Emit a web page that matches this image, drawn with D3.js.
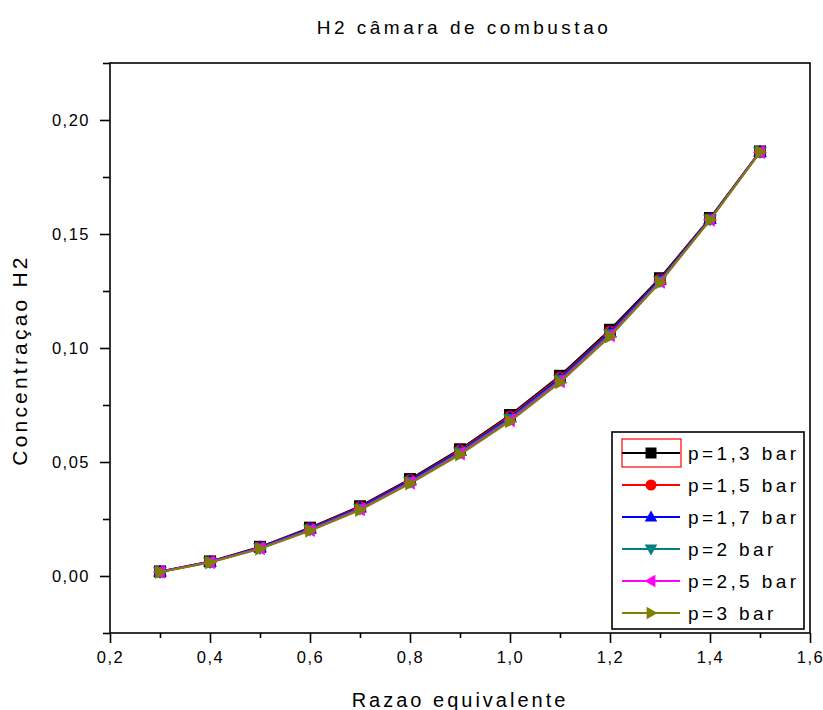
<!DOCTYPE html>
<html>
<head>
<meta charset="utf-8">
<script src="https://cdn.jsdelivr.net/npm/d3@7/dist/d3.min.js"></script>
<style>
  html, body { margin: 0; padding: 0; background: #fff; }
  svg text { font-family: "Liberation Sans", Arial, sans-serif; fill: #000; }
</style>
</head>
<body>
<div id="chart"></div>
<script>
// equivalence ratio values (x)
const phi = [0.3, 0.4, 0.5, 0.6, 0.7, 0.8, 0.9, 1.0, 1.1, 1.2, 1.3, 1.4, 1.5];

// H2 concentration per chamber pressure
const p13 = [0.0020, 0.0064, 0.0128, 0.0212, 0.0306, 0.0425, 0.0556, 0.0706, 0.0878, 0.1080, 0.1306, 0.1570, 0.1862];
const p15 = [0.0019, 0.0063, 0.0126, 0.0209, 0.0303, 0.0421, 0.0551, 0.0700, 0.0871, 0.1072, 0.1300, 0.1567, 0.1861];
const p17 = [0.0019, 0.0062, 0.0125, 0.0207, 0.0300, 0.0418, 0.0547, 0.0695, 0.0866, 0.1067, 0.1298, 0.1566, 0.1860];
const p2  = [0.0018, 0.0061, 0.0123, 0.0204, 0.0296, 0.0413, 0.0542, 0.0689, 0.0860, 0.1061, 0.1294, 0.1564, 0.1860];
const p25 = [0.0018, 0.0060, 0.0121, 0.0201, 0.0292, 0.0409, 0.0537, 0.0683, 0.0854, 0.1055, 0.1290, 0.1562, 0.1859];
const p3  = [0.0017, 0.0059, 0.0119, 0.0198, 0.0289, 0.0405, 0.0532, 0.0678, 0.0849, 0.1050, 0.1287, 0.1561, 0.1859];

const seriesNames = ['p=1,3 bar', 'p=1,5 bar', 'p=1,7 bar', 'p=2 bar', 'p=2,5 bar', 'p=3 bar'];
const seriesValues = [p13, p15, p17, p2, p25, p3];
const seriesColors = ['#000000', '#ff0000', '#0000ff', '#008080', '#ff00ff', '#808000'];
const seriesSymbols = ['square', 'circle', 'triUp', 'triDown', 'triLeft', 'triRight'];

const xTicks = [0.2, 0.4, 0.6, 0.8, 1.0, 1.2, 1.4, 1.6];
const yTicks = [0.00, 0.05, 0.10, 0.15, 0.20];

const W = 823, H = 710;
const margin = { top: 63, right: 13, bottom: 77, left: 110 };
const width = W - margin.left - margin.right;
const height = H - margin.top - margin.bottom;

const svg = d3.select('#chart').append('svg')
  .attr('width', W)
  .attr('height', H);

const g = svg.append('g')
  .attr('transform', `translate(${margin.left},${margin.top})`);

const x = d3.scaleLinear().domain([0.2, 1.6]).range([0, width]);
const y = d3.scaleLinear().domain([-0.025, 0.225]).range([height, 0]);

const fmt = d => d3.format('.1f')(d).replace('.', ',');
const fmtY = d => d3.format('.2f')(d).replace('.', ',');

// --- Axes ---
const xAxis = g.append('g')
  .attr('transform', `translate(0,${height})`)
  .call(d3.axisBottom(x).tickValues(xTicks).tickSize(10).tickPadding(8).tickFormat(fmt));
const xMinor = g.append('g')
  .attr('transform', `translate(0,${height})`)
  .call(d3.axisBottom(x).tickValues(d3.range(0.3, 1.6, 0.2)).tickSize(5).tickFormat(''));

const yAxis = g.append('g')
  .call(d3.axisLeft(y).tickValues(yTicks).tickSize(10).tickPadding(10).tickFormat(fmtY));
const yMinor = g.append('g')
  .call(d3.axisLeft(y).tickValues([-0.025, 0.025, 0.075, 0.125, 0.175, 0.225]).tickSize(7).tickFormat(''));

[xAxis, xMinor, yAxis, yMinor].forEach(a => {
  a.select('.domain').remove();
  a.selectAll('line').attr('stroke', '#000').attr('stroke-width', 1.6);
  a.selectAll('text')
    .style('font-size', '16.5px')
    .style('letter-spacing', '1.5px')
    .style('font-family', '"Liberation Sans", Arial, sans-serif');
});

// frame
g.append('rect')
  .attr('width', width)
  .attr('height', height)
  .attr('fill', 'none')
  .attr('stroke', '#000')
  .attr('stroke-width', 1.6);

// --- Symbols ---
function symbolPath(type, s) {
  switch (type) {
    case 'square': return `M${-s},${-s}H${s}V${s}H${-s}Z`;
    case 'circle': return d3.symbol(d3.symbolCircle, Math.PI * s * s)();
    case 'triUp': return `M0,${-s * 1.2}L${s * 1.15},${s * 0.8}L${-s * 1.15},${s * 0.8}Z`;
    case 'triDown': return `M0,${s * 1.2}L${s * 1.15},${-s * 0.8}L${-s * 1.15},${-s * 0.8}Z`;
    case 'triLeft': return `M${-s * 1.2},0L${s * 0.8},${-s * 1.15}L${s * 0.8},${s * 1.15}Z`;
    case 'triRight': return `M${s * 1.2},0L${-s * 0.8},${-s * 1.15}L${-s * 0.8},${s * 1.15}Z`;
  }
}

const line = d3.line()
  .x(d => x(d[0]))
  .y(d => y(d[1]));

// --- Series ---
seriesValues.forEach((vals, i) => {
  const pts = phi.map((p, j) => [p, vals[j]]);
  g.append('path')
    .datum(pts)
    .attr('fill', 'none')
    .attr('stroke', seriesColors[i])
    .attr('stroke-width', 2)
    .attr('d', line);
  g.append('g').selectAll('path')
    .data(pts)
    .join('path')
      .attr('transform', d => `translate(${x(d[0])},${y(d[1])})`)
      .attr('d', symbolPath(seriesSymbols[i], 6))
      .attr('fill', seriesColors[i]);
});

// --- Titles ---
svg.append('text')
  .attr('x', margin.left + width / 2 + 4)
  .attr('y', 34)
  .attr('text-anchor', 'middle')
  .style('font-size', '19px')
  .style('letter-spacing', '3.5px')
  .text('H2 câmara de combustao');

svg.append('text')
  .attr('x', margin.left + width / 2)
  .attr('y', 707)
  .attr('text-anchor', 'middle')
  .style('font-size', '20px')
  .style('letter-spacing', '3px')
  .text('Razao equivalente');

svg.append('text')
  .attr('transform', `translate(27,${360}) rotate(-90)`)
  .attr('text-anchor', 'middle')
  .style('font-size', '21px')
  .style('letter-spacing', '3.2px')
  .text('Concentraçao H2');

// --- Legend ---
const legend = svg.append('g').attr('transform', 'translate(612,432)');
legend.append('rect')
  .attr('width', 192)
  .attr('height', 197)
  .attr('fill', '#fff')
  .attr('stroke', '#000')
  .attr('stroke-width', 1.6);
legend.append('rect')
  .attr('x', 10)
  .attr('y', 7)
  .attr('width', 59)
  .attr('height', 28)
  .attr('fill', 'none')
  .attr('stroke', '#ff0000')
  .attr('stroke-width', 1.2);

seriesNames.forEach((name, i) => {
  const row = legend.append('g').attr('transform', `translate(0,${21 + i * 32})`);
  row.append('line')
    .attr('x1', 10).attr('x2', 68)
    .attr('stroke', seriesColors[i])
    .attr('stroke-width', 2);
  row.append('path')
    .attr('transform', 'translate(39,0)')
    .attr('d', symbolPath(seriesSymbols[i], 5.5))
    .attr('fill', seriesColors[i]);
  row.append('text')
    .attr('x', 76)
    .attr('y', 7)
    .style('font-size', '19px')
    .style('letter-spacing', '3.4px')
    .text(name);
});
</script>
</body>
</html>
